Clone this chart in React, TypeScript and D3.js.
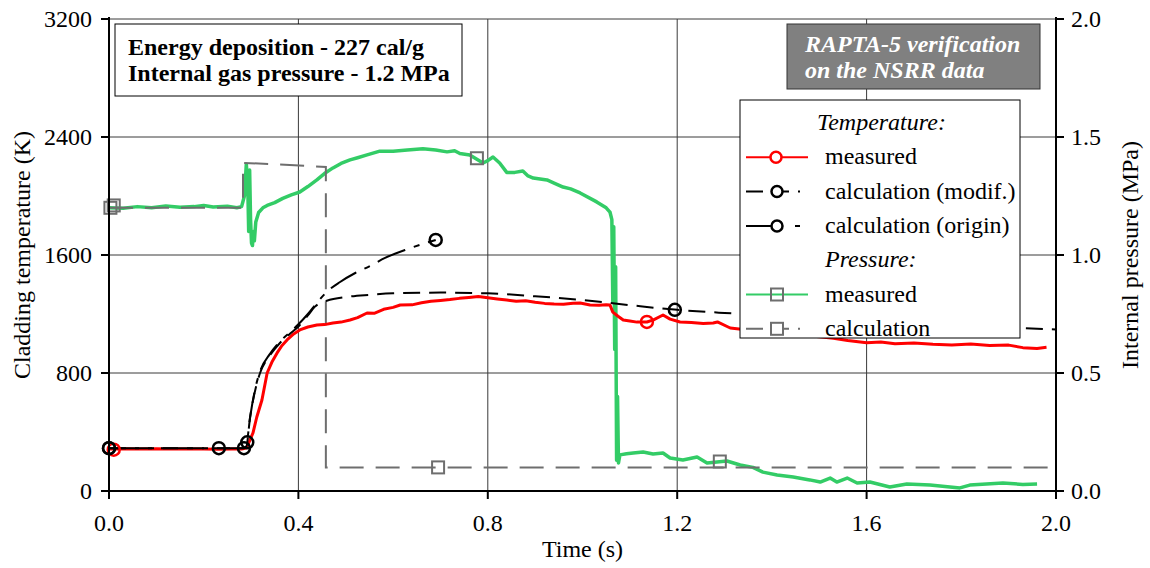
import React from "react";
import * as d3 from "d3";

// ---------- data ----------
const xTicks = [0, 0.4, 0.8, 1.2, 1.6, 2.0];
const yLeftTicks = [0, 800, 1600, 2400, 3200];
const yRightTicks = [0, 0.5, 1.0, 1.5, 2.0];

// Temperature measured (s, K)
const tempMeasured: [number, number][] = [
  [0, 285], [0.03, 287], [0.06, 285], [0.1, 286], [0.13, 284], [0.16, 285], [0.2, 285], [0.23, 283], [0.26, 284], [0.28, 285],
  [0.29, 292], [0.297, 340], [0.304, 393], [0.312, 500], [0.323, 617], [0.334, 800], [0.345, 880], [0.355, 936],
  [0.365, 985], [0.376, 1024], [0.39, 1065], [0.403, 1092], [0.42, 1112], [0.439, 1125], [0.455, 1128], [0.473, 1139],
  [0.49, 1145], [0.509, 1159], [0.525, 1175], [0.545, 1207], [0.56, 1205], [0.58, 1232], [0.60, 1245], [0.615, 1261],
  [0.64, 1262], [0.66, 1276], [0.68, 1286], [0.70, 1292], [0.72, 1298], [0.74, 1306], [0.76, 1312], [0.78, 1318],
  [0.80, 1310], [0.82, 1302], [0.84, 1295], [0.86, 1286], [0.88, 1290], [0.90, 1280], [0.92, 1272], [0.94, 1268],
  [0.96, 1266], [0.98, 1273], [0.995, 1275], [1.016, 1261], [1.035, 1259], [1.05, 1263], [1.058, 1261],
  [1.064, 1213], [1.075, 1185], [1.086, 1159], [1.10, 1152], [1.115, 1145], [1.136, 1146], [1.15, 1160],
  [1.17, 1193], [1.185, 1165], [1.206, 1146], [1.23, 1142], [1.255, 1135], [1.276, 1139], [1.285, 1146],
  [1.312, 1105], [1.34, 1095], [1.37, 1082], [1.40, 1070], [1.43, 1074], [1.46, 1058], [1.50, 1045],
  [1.53, 1036], [1.56, 1020], [1.60, 1005], [1.63, 1010], [1.66, 998], [1.70, 1004], [1.74, 995],
  [1.78, 990], [1.82, 996], [1.86, 986], [1.90, 989], [1.93, 972], [1.96, 966], [1.98, 974],
];

// Temperature calculation (modif.)
const tempCalcModif: [number, number][] = [
  [0, 290], [0.285, 290], [0.29, 300], [0.298, 500], [0.31, 700], [0.319, 800], [0.34, 920], [0.36, 1000],
  [0.38, 1060], [0.40, 1115], [0.42, 1190], [0.435, 1250], [0.447, 1275], [0.46, 1290], [0.50, 1315],
  [0.55, 1330], [0.60, 1340], [0.70, 1345], [0.80, 1340], [0.90, 1320], [1.0, 1295], [1.1, 1260],
  [1.2, 1228], [1.3, 1207], [1.4, 1190], [1.6, 1160], [1.8, 1125], [1.9, 1108], [2.0, 1095],
];

// Temperature calculation (origin)
const tempCalcOrigin: [number, number][] = [
  [0, 290], [0.285, 290], [0.29, 310], [0.298, 500], [0.31, 710], [0.32, 820], [0.34, 930], [0.36, 1010],
  [0.38, 1070], [0.40, 1130], [0.42, 1200], [0.44, 1280], [0.46, 1350], [0.488, 1417], [0.52, 1478],
  [0.551, 1525], [0.583, 1580], [0.63, 1640], [0.69, 1702],
];

// Pressure measured (s, MPa)
const pressMeasured: [number, number][] = [
  [0, 1.2], [0.03, 1.198], [0.06, 1.205], [0.09, 1.2], [0.12, 1.208], [0.15, 1.202], [0.18, 1.205], [0.2, 1.21],
  [0.22, 1.203], [0.25, 1.207], [0.27, 1.2], [0.28, 1.205], [0.286, 1.25], [0.29, 1.385], [0.293, 1.3],
  [0.295, 1.1], [0.297, 1.36], [0.299, 1.15], [0.301, 1.05], [0.303, 1.04], [0.305, 1.1], [0.307, 1.06],
  [0.31, 1.14], [0.316, 1.18], [0.325, 1.2], [0.334, 1.21], [0.35, 1.222], [0.367, 1.24], [0.385, 1.255],
  [0.403, 1.267], [0.42, 1.29], [0.439, 1.318], [0.455, 1.345], [0.473, 1.369], [0.49, 1.388], [0.509, 1.403],
  [0.525, 1.412], [0.545, 1.424], [0.572, 1.44], [0.6, 1.44], [0.63, 1.445], [0.663, 1.45], [0.69, 1.445],
  [0.714, 1.437], [0.73, 1.442], [0.741, 1.43], [0.762, 1.424], [0.79, 1.39], [0.80, 1.4], [0.811, 1.415],
  [0.825, 1.39], [0.84, 1.35], [0.857, 1.35], [0.874, 1.356], [0.885, 1.335], [0.896, 1.326], [0.925, 1.318],
  [0.94, 1.305], [0.959, 1.288], [0.975, 1.28], [0.995, 1.263], [1.03, 1.225], [1.05, 1.2], [1.058, 1.182],
  [1.062, 1.15], [1.064, 0.8], [1.066, 1.12], [1.068, 0.6], [1.07, 0.95], [1.072, 0.13], [1.074, 0.4],
  [1.076, 0.119], [1.079, 0.153], [1.093, 0.158], [1.107, 0.161], [1.128, 0.165], [1.149, 0.157],
  [1.17, 0.161], [1.185, 0.14], [1.212, 0.131], [1.242, 0.144], [1.263, 0.119], [1.284, 0.123], [1.305, 0.127],
  [1.333, 0.11], [1.36, 0.1], [1.381, 0.08], [1.411, 0.068], [1.445, 0.059], [1.48, 0.047], [1.502, 0.038],
  [1.523, 0.055], [1.537, 0.038], [1.559, 0.055], [1.58, 0.034], [1.607, 0.038], [1.649, 0.017], [1.685, 0.03],
  [1.734, 0.025], [1.797, 0.013], [1.818, 0.025], [1.888, 0.034], [1.93, 0.028], [1.96, 0.03],
];

// Pressure calculation
const pressCalc: [number, number][] = [
  [0, 1.2], [0.283, 1.2], [0.283, 1.39], [0.35, 1.385], [0.458, 1.373], [0.458, 0.1], [2.0, 0.1],
];

// markers
const tempMeasuredMarkers: [number, number][] = [[0.01, 280], [1.136, 1146]];
const tempModifMarkers: [number, number][] = [[0, 290], [0.285, 290], [1.195, 1228]];
const tempOriginMarkers: [number, number][] = [[0, 290], [0.232, 290], [0.292, 330], [0.69, 1702]];
const pressMeasuredMarkers: [number, number][] = [[0.01, 1.21], [0.777, 1.41], [1.29, 0.125]];
const pressCalcMarkers: [number, number][] = [[0.003, 1.2], [0.695, 0.1]];

const infoLines = ["Energy deposition - 227 cal/g", "Internal gas pressure - 1.2 MPa"];
const badgeLines = ["RAPTA-5 verification", "on the NSRR data"];

// ---------- layout ----------
const W = 1150, H = 568;
const L = 109, R = 1056, T = 19, B = 491;
const FONT = '"Liberation Serif"';
const FS = 24;
const RED = "#ff0000", GREEN = "#33cc66", GREY = "#6e6e6e";

function Txt(props: any) {
  const { style, ...rest } = props;
  return <text {...rest} style={{ fontFamily: FONT, ...(style || {}) }} />;
}

export default function App() {
  const x = d3.scaleLinear().domain([0, 2]).range([L, R]);
  const yL = d3.scaleLinear().domain([0, 3200]).range([B, T]);
  const yR = d3.scaleLinear().domain([0, 2]).range([B, T]);

  const lineL = d3.line<[number, number]>().x(d => x(d[0])).y(d => yL(d[1]));
  const lineLs = d3.line<[number, number]>().x(d => x(d[0])).y(d => yL(d[1])).curve(d3.curveMonotoneX);
  const lineR = d3.line<[number, number]>().x(d => x(d[0])).y(d => yR(d[1]));

  const sq = 12;
  const legendY = (i: number) => 130 + i * 34.3;

  return (
    <svg width={W} height={H} style={{ position: "absolute", left: 0, top: 0, background: "#fff" }}>
      <rect x={0} y={0} width={W} height={H} fill="#fff" />
      {/* grid */}
      {xTicks.slice(1, -1).map(t => (
        <line key={"gx" + t} x1={x(t)} x2={x(t)} y1={T} y2={B} stroke="#3a3a3a" strokeWidth={1} />
      ))}
      {yLeftTicks.slice(1).map(t => (
        <line key={"gy" + t} x1={L} x2={R} y1={yL(t)} y2={yL(t)} stroke="#3a3a3a" strokeWidth={1} />
      ))}

      {/* series */}
      <path d={lineR(pressMeasured) || ""} fill="none" stroke={GREEN} strokeWidth={3.5} strokeLinejoin="round" />
      <path d={lineR(pressCalc) || ""} fill="none" stroke={GREY} strokeWidth={2} strokeDasharray="24 12" />
      <path d={lineL(tempMeasured) || ""} fill="none" stroke={RED} strokeWidth={3} strokeLinejoin="round" />
      <path d={lineLs(tempCalcOrigin) || ""} fill="none" stroke="#000" strokeWidth={2} strokeDasharray="30 9 6 9" />
      <path d={lineLs(tempCalcModif) || ""} fill="none" stroke="#000" strokeWidth={2} strokeDasharray="17 9" />

      {/* markers */}
      {pressCalcMarkers.map((d, i) => (
        <rect key={"pc" + i} x={x(d[0]) - sq / 2} y={yR(d[1]) - sq / 2} width={sq} height={sq} fill="none" stroke={GREY} strokeWidth={2} />
      ))}
      {pressMeasuredMarkers.map((d, i) => (
        <rect key={"pm" + i} x={x(d[0]) - sq / 2} y={yR(d[1]) - sq / 2} width={sq} height={sq} fill="none" stroke={GREY} strokeWidth={2} />
      ))}
      {tempMeasuredMarkers.map((d, i) => (
        <circle key={"tm" + i} cx={x(d[0])} cy={yL(d[1])} r={6} fill="none" stroke={RED} strokeWidth={2.5} />
      ))}
      {tempModifMarkers.map((d, i) => (
        <circle key={"tmo" + i} cx={x(d[0])} cy={yL(d[1])} r={6} fill="none" stroke="#000" strokeWidth={2.5} />
      ))}
      {tempOriginMarkers.map((d, i) => (
        <circle key={"tor" + i} cx={x(d[0])} cy={yL(d[1])} r={6} fill="none" stroke="#000" strokeWidth={2.5} />
      ))}

      {/* axes */}
      <line x1={L} x2={L} y1={T - 2} y2={B} stroke="#000" strokeWidth={2} />
      <line x1={R} x2={R} y1={T - 2} y2={B} stroke="#000" strokeWidth={2} />
      <line x1={L} x2={R} y1={B} y2={B} stroke="#000" strokeWidth={2} />
      {yLeftTicks.map(t => (
        <g key={"yl" + t}>
          <line x1={L - 8} x2={L} y1={yL(t)} y2={yL(t)} stroke="#000" strokeWidth={2} />
          <Txt x={L - 17} y={yL(t) + 8} textAnchor="end" fontSize={FS}>{t}</Txt>
        </g>
      ))}
      {yRightTicks.map(t => (
        <g key={"yr" + t}>
          <line x1={R} x2={R + 8} y1={yR(t)} y2={yR(t)} stroke="#000" strokeWidth={2} />
          <Txt x={R + 15} y={yR(t) + 8} textAnchor="start" fontSize={FS}>{t.toFixed(1)}</Txt>
        </g>
      ))}
      {xTicks.map(t => (
        <g key={"xt" + t}>
          <line x1={x(t)} x2={x(t)} y1={B} y2={B + 8} stroke="#000" strokeWidth={2} />
          <Txt x={x(t)} y={B + 40} textAnchor="middle" fontSize={FS}>{t.toFixed(1)}</Txt>
        </g>
      ))}
      <Txt x={(L + R) / 2} y={557} textAnchor="middle" fontSize={FS}>Time (s)</Txt>
      <Txt transform={`translate(30,${(T + B) / 2}) rotate(-90)`} textAnchor="middle" fontSize={FS}>Cladding temperature (K)</Txt>
      <Txt transform={`translate(1138,${(T + B) / 2}) rotate(-90)`} textAnchor="middle" fontSize={FS}>Internal pressure (MPa)</Txt>

      {/* info box */}
      <rect x={115} y={24} width={347} height={72} fill="#fff" stroke="#000" strokeWidth={1} />
      {infoLines.map((s, i) => (
        <Txt key={"il" + i} x={128} y={55 + i * 26} fontSize={FS} fontWeight="bold">{s}</Txt>
      ))}

      {/* badge */}
      <rect x={787} y={24} width={253} height={65} fill="#808080" stroke="#333" strokeWidth={1} />
      {badgeLines.map((s, i) => (
        <Txt key={"bl" + i} x={805} y={52 + i * 26} fontSize={FS} fontWeight="bold" fontStyle="italic" fill="#fff">{s}</Txt>
      ))}

      {/* legend */}
      <rect x={740} y={100} width={280} height={238} fill="#fff" stroke="#000" strokeWidth={1} />
      <Txt x={817} y={legendY(0)} fontSize={FS} fontStyle="italic">Temperature:</Txt>
      <line x1={746} x2={808} y1={legendY(1) - 7} y2={legendY(1) - 7} stroke={RED} strokeWidth={2} />
      <circle cx={776} cy={legendY(1) - 7} r={5.5} fill="#fff" stroke={RED} strokeWidth={2.5} />
      <Txt x={825} y={legendY(1)} fontSize={FS}>measured</Txt>
      <line x1={746} x2={800} y1={legendY(2) - 7} y2={legendY(2) - 7} stroke="#000" strokeWidth={2} strokeDasharray="17 9" />
      <circle cx={777} cy={legendY(2) - 7} r={5.5} fill="#fff" stroke="#000" strokeWidth={2.5} />
      <Txt x={825} y={legendY(2)} fontSize={FS}>calculation (modif.)</Txt>
      <line x1={746} x2={800} y1={legendY(3) - 7} y2={legendY(3) - 7} stroke="#000" strokeWidth={2} strokeDasharray="27 22 5 10" />
      <circle cx={777} cy={legendY(3) - 7} r={5.5} fill="#fff" stroke="#000" strokeWidth={2.5} />
      <Txt x={825} y={legendY(3)} fontSize={FS}>calculation (origin)</Txt>
      <Txt x={825} y={legendY(4)} fontSize={FS} fontStyle="italic">Pressure:</Txt>
      <line x1={746} x2={808} y1={legendY(5) - 7} y2={legendY(5) - 7} stroke={GREEN} strokeWidth={2} />
      <rect x={777 - sq / 2} y={legendY(5) - 7 - sq / 2} width={sq} height={sq} fill="none" stroke={GREY} strokeWidth={2} />
      <Txt x={825} y={legendY(5)} fontSize={FS}>measured</Txt>
      <line x1={746} x2={800} y1={legendY(6) - 7} y2={legendY(6) - 7} stroke={GREY} strokeWidth={2} strokeDasharray="17 9" />
      <rect x={777 - sq / 2} y={legendY(6) - 7 - sq / 2} width={sq} height={sq} fill="#fff" stroke={GREY} strokeWidth={2} />
      <Txt x={825} y={legendY(6)} fontSize={FS}>calculation</Txt>
    </svg>
  );
}
